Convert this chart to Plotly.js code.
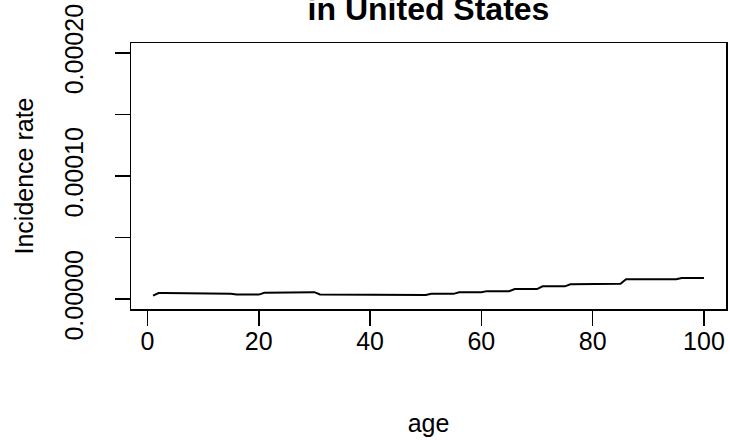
<!DOCTYPE html>
<html>
<head>
<meta charset="utf-8">
<script src="https://cdn.plot.ly/plotly-3.0.1.min.js"></script>
<style>html,body{margin:0;padding:0;background:#fff;}#chart{width:730px;height:440px;}</style>
</head>
<body>
<div id="chart"></div>
<script>
const ages = [1,2,3,4,5,6,7,8,9,10,11,12,13,14,15,16,17,18,19,20,
  21,22,23,24,25,26,27,28,29,30,31,32,33,34,35,36,37,38,39,40,
  41,42,43,44,45,46,47,48,49,50,51,52,53,54,55,56,57,58,59,60,
  61,62,63,64,65,66,67,68,69,70,71,72,73,74,75,76,77,78,79,80,
  81,82,83,84,85,86,87,88,89,90,91,92,93,94,95,96,97,98,99,100];
const incidence = [
  2.9e-6,4.9e-6,4.9e-6,4.9e-6,4.9e-6,4.9e-6,4.9e-6,4.9e-6,4.9e-6,4.9e-6,
  4.3e-6,4.3e-6,4.3e-6,4.3e-6,4.3e-6,3.7e-6,3.7e-6,3.7e-6,3.7e-6,3.7e-6,
  5.1e-6,5.1e-6,5.1e-6,5.1e-6,5.1e-6,5.7e-6,5.7e-6,5.7e-6,5.7e-6,5.7e-6,
  3.8e-6,3.8e-6,3.8e-6,3.8e-6,3.8e-6,3.3e-6,3.3e-6,3.3e-6,3.3e-6,3.3e-6,
  3.3e-6,3.3e-6,3.3e-6,3.3e-6,3.3e-6,3.3e-6,3.3e-6,3.3e-6,3.3e-6,3.3e-6,
  4.3e-6,4.3e-6,4.3e-6,4.3e-6,4.3e-6,5.6e-6,5.6e-6,5.6e-6,5.6e-6,5.6e-6,
  6.5e-6,6.5e-6,6.5e-6,6.5e-6,6.5e-6,8.2e-6,8.2e-6,8.2e-6,8.2e-6,8.2e-6,
  10.4e-6,10.4e-6,10.4e-6,10.4e-6,10.4e-6,12.0e-6,12.0e-6,12.0e-6,12.0e-6,12.0e-6,
  12.5e-6,12.5e-6,12.5e-6,12.5e-6,12.5e-6,16.1e-6,16.1e-6,16.1e-6,16.1e-6,16.1e-6,
  16.1e-6,16.1e-6,16.1e-6,16.1e-6,16.1e-6,17.2e-6,17.2e-6,17.2e-6,17.2e-6,17.2e-6];
const xTickVals = [0,20,40,60,80,100];
const xTickText = ["0","20","40","60","80","100"];
const yTickVals = [0,0.00005,0.0001,0.00015,0.0002];
const yTickText = ["0.00000","","0.00010","","0.00020"];
const titleText = "in United States";
const xLabel = "age";
const yLabel = "Incidence rate";

const font = "Liberation Sans, Arial, sans-serif";
const trace = {x: ages, y: incidence, type: "scatter", mode: "lines",
  line: {color: "#000", width: 2}, hoverinfo: "skip"};
const layout = {
  width: 730, height: 440,
  margin: {l: 131, r: 4, t: 43, b: 131},
  paper_bgcolor: "#fff", plot_bgcolor: "#fff",
  showlegend: false,
  font: {family: font, size: 25, color: "#000"},
  title: {text: "<b>" + titleText + "</b>", font: {family: font, size: 32, color: "#000"},
    x: 0.5, xanchor: "center", xref: "paper", yref: "container", y: 0.955, yanchor: "bottom"},
  xaxis: {range: [-2.96, 103.96], tickvals: xTickVals, ticktext: xTickText,
    showline: true, mirror: true, linecolor: "#000", linewidth: 1.5,
    ticks: "outside", ticklen: 15, tickwidth: 1.5, tickcolor: "#000",
    showgrid: false, zeroline: false, ticklabelstandoff: -6,
    title: {text: xLabel, standoff: 61, font: {size: 25}}},
  yaxis: {range: [-0.000008, 0.000208], tickvals: yTickVals, ticktext: yTickText,
    showline: true, mirror: true, linecolor: "#000", linewidth: 1.5,
    ticks: "outside", ticklen: 15, tickwidth: 1.5, tickcolor: "#000",
    showgrid: false, zeroline: false, tickangle: -90, ticklabelstandoff: 22,
    title: {text: yLabel, standoff: 19, font: {size: 25}}}
};
Plotly.newPlot("chart", [trace], layout, {staticPlot: true, displayModeBar: false});
</script>
</body>
</html>
